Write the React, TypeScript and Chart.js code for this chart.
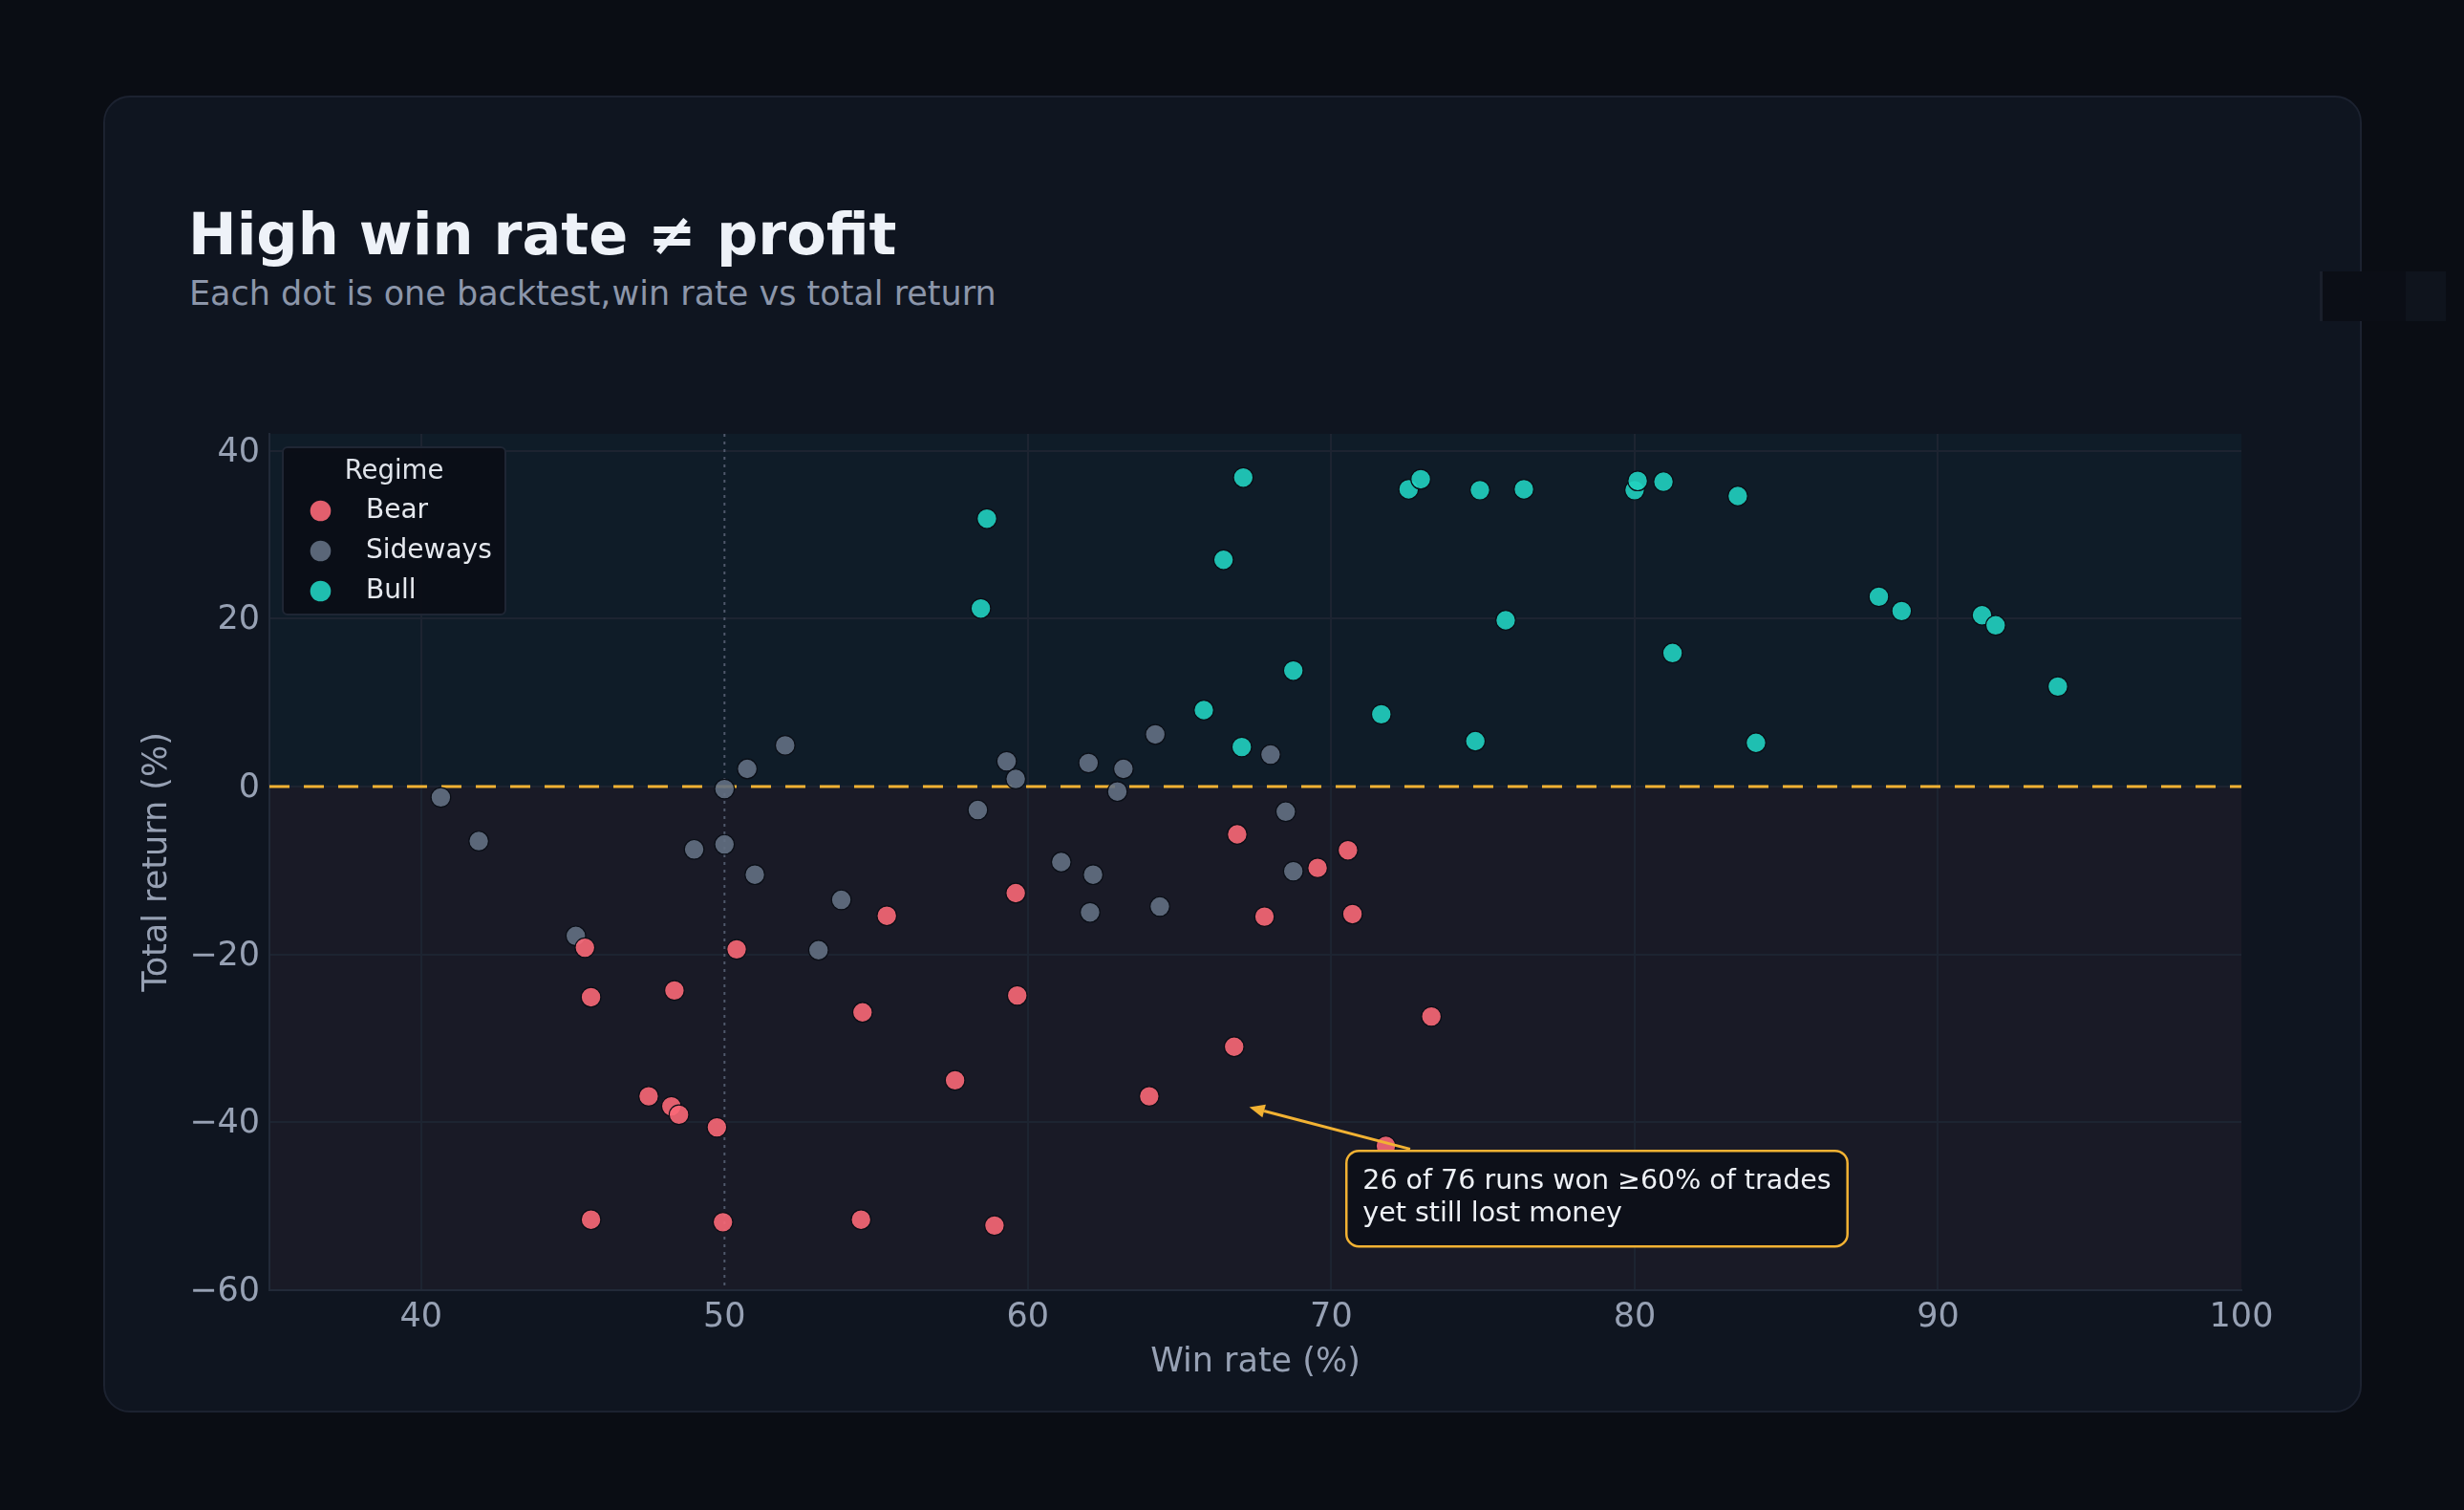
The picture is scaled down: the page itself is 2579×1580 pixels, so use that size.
import React, { useEffect, useRef } from 'react';
import { Chart, registerables } from 'chart.js';

Chart.register(...registerables);

// ---------- data ----------
const REGIMES = ['Bear', 'Sideways', 'Bull'];

const bearWinRate = [45.4, 45.6, 45.6, 47.5, 48.25, 48.5, 48.35, 49.75, 49.95, 50.4, 54.55, 54.5, 55.35, 57.6, 58.9, 59.6, 59.65, 64.0, 66.8, 66.9, 67.8, 69.55, 70.55, 70.7, 73.3, 71.8];
const bearReturn = [-19.2, -25.1, -51.6, -36.9, -38.1, -39.1, -24.3, -40.6, -51.9, -19.4, -26.9, -51.6, -15.4, -35.0, -52.3, -12.7, -24.9, -36.9, -31.0, -5.7, -15.5, -9.7, -7.6, -15.2, -27.4, -42.8];

const sidewaysWinRate = [40.65, 41.9, 45.1, 49.0, 50.0, 50.0, 50.75, 52.0, 51.0, 53.85, 53.1, 58.35, 59.3, 59.6, 62.0, 63.15, 62.95, 64.2, 68.0, 68.5, 68.75, 61.1, 62.15, 62.05, 64.35];
const sidewaysReturn = [-1.3, -6.5, -17.8, -7.5, -0.3, -6.9, 2.1, 4.9, -10.5, -13.5, -19.5, -2.8, 3.0, 0.9, 2.8, 2.1, -0.6, 6.2, 3.8, -3.0, -10.1, -9.0, -10.5, -15.0, -14.3];

const bullWinRate = [58.65, 58.45, 67.1, 66.45, 72.55, 72.95, 74.9, 76.35, 75.75, 68.75, 65.8, 67.05, 71.65, 74.75, 80.0, 80.1, 80.95, 83.4, 88.05, 88.8, 91.45, 91.9, 93.95, 81.25, 84.0];
const bullReturn = [31.9, 21.2, 36.8, 27.0, 35.4, 36.6, 35.3, 35.4, 19.8, 13.8, 9.1, 4.7, 8.6, 5.4, 35.3, 36.4, 36.3, 34.6, 22.6, 20.9, 20.4, 19.2, 11.9, 15.9, 5.2];

const X_TICKS = [40, 50, 60, 70, 80, 90, 100];
const Y_TICKS = [-60, -40, -20, 0, 20, 40];
const X_MIN = 35;
const X_MAX = 100;
const Y_MIN = -60;
const Y_MAX = 42;
const BREAKEVEN_WIN_RATE = 50;
const ZERO_RETURN = 0;

const TITLE = 'High win rate \u2260 profit';
const SUBTITLE_A = 'Each dot is one backtest,';
const SUBTITLE_B = ' win rate vs total return';
const X_TITLE = 'Win rate (%)';
const Y_TITLE = 'Total return (%)';
const LEGEND_TITLE = 'Regime';
const ANNOTATION_LINES = ['26 of 76 runs won \u226560% of trades', 'yet still lost money'];
const ANNOTATION_TARGET = { x: 67.3, y: -38.2 };
const ANNOTATION_TAIL = { x: 72.6, y: -43.2 };
const ANNOTATION_BOX = { x: 70.5, y: -43.4 };

// ---------- styles ----------
const FONT = '"DejaVu Sans", "Noto Sans", sans-serif';
const COLORS = ['rgba(250,104,119,0.9)', 'rgba(99,112,131,0.9)', 'rgba(33,209,192,0.9)'];
const AMBER = '#f2b233';
const TICK_COLOR = '#97a1b4';
const GRID_COLOR = '#1d2431';

const fmtTick = (v: number) => (v < 0 ? '\u2212' + Math.abs(v) : String(v));

function roundRect(ctx: CanvasRenderingContext2D, x: number, y: number, w: number, h: number, r: number) {
  ctx.beginPath();
  ctx.moveTo(x + r, y);
  ctx.lineTo(x + w - r, y);
  ctx.arcTo(x + w, y, x + w, y + r, r);
  ctx.lineTo(x + w, y + h - r);
  ctx.arcTo(x + w, y + h, x + w - r, y + h, r);
  ctx.lineTo(x + r, y + h);
  ctx.arcTo(x, y + h, x, y + h - r, r);
  ctx.lineTo(x, y + r);
  ctx.arcTo(x, y, x + r, y, r);
  ctx.closePath();
}

const bgPlugin = {
  id: 'regionBg',
  beforeDraw(chart: any) {
    const { ctx, chartArea: a, scales } = chart;
    const y0 = scales.y.getPixelForValue(ZERO_RETURN);
    ctx.save();
    ctx.fillStyle = '#0f1c28';
    ctx.fillRect(a.left, a.top, a.right - a.left, y0 - a.top);
    ctx.fillStyle = '#191a26';
    ctx.fillRect(a.left, y0, a.right - a.left, a.bottom - y0);
    ctx.restore();
  },
};

const refLinesPlugin = {
  id: 'refLines',
  beforeDatasetsDraw(chart: any) {
    const { ctx, chartArea: a, scales } = chart;
    const x50 = scales.x.getPixelForValue(BREAKEVEN_WIN_RATE);
    const y0 = scales.y.getPixelForValue(ZERO_RETURN);
    ctx.save();
    ctx.strokeStyle = '#4f586b';
    ctx.lineWidth = 2;
    ctx.setLineDash([3, 5]);
    ctx.beginPath();
    ctx.moveTo(x50, a.top);
    ctx.lineTo(x50, a.bottom);
    ctx.stroke();
    ctx.strokeStyle = AMBER;
    ctx.lineWidth = 3;
    ctx.setLineDash([21, 15]);
    ctx.beginPath();
    ctx.moveTo(a.left, y0);
    ctx.lineTo(a.right, y0);
    ctx.stroke();
    ctx.restore();
  },
};

const annotationPlugin = {
  id: 'annotation',
  afterDatasetsDraw(chart: any) {
    const { ctx, scales } = chart;
    const { x, y } = scales;
    const tx = x.getPixelForValue(ANNOTATION_TARGET.x);
    const ty = y.getPixelForValue(ANNOTATION_TARGET.y);
    const sx = x.getPixelForValue(ANNOTATION_TAIL.x);
    const sy = y.getPixelForValue(ANNOTATION_TAIL.y);
    const ang = Math.atan2(ty - sy, tx - sx);
    const headLen = 16;
    const headW = 7;
    const hx = tx - headLen * Math.cos(ang);
    const hy = ty - headLen * Math.sin(ang);
    ctx.save();
    ctx.strokeStyle = AMBER;
    ctx.fillStyle = AMBER;
    ctx.lineWidth = 3;
    ctx.beginPath();
    ctx.moveTo(sx, sy);
    ctx.lineTo(hx, hy);
    ctx.stroke();
    ctx.beginPath();
    ctx.moveTo(tx, ty);
    ctx.lineTo(hx + headW * Math.sin(ang), hy - headW * Math.cos(ang));
    ctx.lineTo(hx - headW * Math.sin(ang), hy + headW * Math.cos(ang));
    ctx.closePath();
    ctx.fill();

    ctx.font = `28.5px ${FONT}`;
    const tw = Math.max(...ANNOTATION_LINES.map((l) => ctx.measureText(l).width));
    const bx = x.getPixelForValue(ANNOTATION_BOX.x);
    const by = y.getPixelForValue(ANNOTATION_BOX.y);
    const bw = tw + 34;
    const bh = 100;
    roundRect(ctx, bx, by, bw, bh, 13);
    ctx.fillStyle = '#0d1019';
    ctx.fill();
    ctx.lineWidth = 2.5;
    ctx.strokeStyle = AMBER;
    ctx.stroke();
    ctx.fillStyle = '#eef1f6';
    ctx.textBaseline = 'alphabetic';
    ctx.textAlign = 'left';
    ANNOTATION_LINES.forEach((l, i) => ctx.fillText(l, bx + 17, by + 40 + i * 34));
    ctx.restore();
  },
};

const legendPlugin = {
  id: 'customLegend',
  afterDraw(chart: any) {
    const { ctx, chartArea: a } = chart;
    const left = a.left + 14;
    const top = a.top + 14;
    const w = 233;
    const h = 175;
    ctx.save();
    roundRect(ctx, left, top, w, h, 5);
    ctx.fillStyle = 'rgba(11,14,22,0.95)';
    ctx.fill();
    ctx.strokeStyle = '#1f2634';
    ctx.lineWidth = 2;
    ctx.stroke();
    ctx.fillStyle = '#dfe3ea';
    ctx.font = `27.5px ${FONT}`;
    ctx.textAlign = 'center';
    ctx.textBaseline = 'alphabetic';
    ctx.fillText(LEGEND_TITLE, left + w / 2, top + 32.5);
    ctx.textAlign = 'left';
    ctx.font = `28px ${FONT}`;
    chart.data.datasets.forEach((ds: any, i: number) => {
      const cy = top + 66.5 + i * 42;
      ctx.beginPath();
      ctx.arc(left + 39.5, cy, 10.8, 0, Math.PI * 2);
      ctx.fillStyle = ds.backgroundColor;
      ctx.fill();
      ctx.fillStyle = '#e6e9ef';
      ctx.fillText(ds.label, left + 87, cy + 7.6);
    });
    ctx.restore();
  },
};

export default function App() {
  const ref = useRef<HTMLCanvasElement | null>(null);

  useEffect(() => {
    if (!ref.current) return;
    Chart.defaults.font.family = FONT;
    const xs = [bearWinRate, sidewaysWinRate, bullWinRate];
    const ys = [bearReturn, sidewaysReturn, bullReturn];
    const chart = new Chart(ref.current, {
      type: 'scatter',
      data: {
        datasets: REGIMES.map((label, i) => ({
          label,
          data: xs[i].map((v, j) => ({ x: v, y: ys[i][j] })),
          backgroundColor: COLORS[i],
          borderColor: '#0a0e16',
          borderWidth: 1.2,
          pointRadius: 10.3,
          pointHoverRadius: 10.3,
        })),
      },
      options: {
        animation: false,
        responsive: false,
        devicePixelRatio: 1,
        events: [],
        layout: { padding: { left: 0, top: 74, right: 126, bottom: 0 } },
        plugins: {
          legend: { display: false },
          tooltip: { enabled: false },
        },
        scales: {
          x: {
            type: 'linear',
            min: X_MIN,
            max: X_MAX,
            afterBuildTicks: (s: any) => {
              s.ticks = X_TICKS.map((v) => ({ value: v }));
            },
            afterFit: (s: any) => {
              s.height = 128;
            },
            grid: {
              color: (c: any) =>
                c.tick && (c.tick.value === X_MAX || c.tick.value === BREAKEVEN_WIN_RATE) ? 'rgba(0,0,0,0)' : GRID_COLOR,
              lineWidth: 2,
              drawTicks: false,
            },
            border: { color: '#222a38', width: 2 },
            ticks: {
              color: TICK_COLOR,
              font: { size: 35, family: FONT },
              padding: 8,
              maxRotation: 0,
              autoSkip: false,
              callback: (v: any) => fmtTick(Number(v)),
            },
            title: {
              display: true,
              text: X_TITLE,
              color: TICK_COLOR,
              font: { size: 35, family: FONT },
              padding: { top: 0, bottom: 31 },
            },
          },
          y: {
            type: 'linear',
            min: Y_MIN,
            max: Y_MAX,
            afterBuildTicks: (s: any) => {
              s.ticks = Y_TICKS.map((v) => ({ value: v }));
            },
            afterFit: (s: any) => {
              s.width = 174;
            },
            grid: { color: GRID_COLOR, lineWidth: 2, drawTicks: false },
            border: { color: '#222a38', width: 2 },
            ticks: {
              color: TICK_COLOR,
              font: { size: 35, family: FONT },
              padding: 10,
              labelOffset: 2,
              autoSkip: false,
              callback: (v: any) => fmtTick(Number(v)),
            },
            title: {
              display: true,
              text: Y_TITLE,
              color: TICK_COLOR,
              font: { size: 35, family: FONT },
              padding: { top: 36, bottom: 0 },
            },
          },
        },
      },
      plugins: [bgPlugin, refLinesPlugin, annotationPlugin, legendPlugin],
    } as any);
    return () => chart.destroy();
  }, []);

  return (
    <div
      style={{
        position: 'absolute',
        left: 0,
        top: 0,
        width: 2579,
        height: 1580,
        background: '#0a0d14',
        overflow: 'hidden',
        fontFamily: FONT,
      }}
    >
      <div
        style={{
          position: 'absolute',
          left: 108,
          top: 100,
          width: 2364,
          height: 1378,
          boxSizing: 'border-box',
          border: '2.5px solid #1c2230',
          borderRadius: 28,
          background: '#0f1520',
        }}
      />
      <div
        style={{
          position: 'absolute',
          left: 197,
          top: 214.5,
          fontSize: 60.5,
          lineHeight: '60.5px',
          fontWeight: 'bold',
          color: '#eef2f8',
          whiteSpace: 'nowrap',
        }}
      >
        {TITLE}
      </div>
      <div
        style={{
          position: 'absolute',
          left: 198,
          top: 290,
          fontSize: 35,
          lineHeight: '35px',
          color: '#8c96aa',
          whiteSpace: 'nowrap',
        }}
      >
        <span>{SUBTITLE_A}</span>
        <span style={{ marginLeft: -10 }}>{SUBTITLE_B}</span>
      </div>
      <canvas
        ref={ref}
        width={2364}
        height={1098}
        style={{ position: 'absolute', left: 108, top: 380, width: 2364, height: 1098 }}
      />
      <div
        style={{
          position: 'absolute',
          left: 2428,
          top: 284,
          width: 90,
          height: 52,
          boxSizing: 'border-box',
          borderLeft: '3px solid #1a1f2b',
          background: '#0b0e16',
        }}
      />
      <div style={{ position: 'absolute', left: 2518, top: 284, width: 42, height: 52, background: '#0f141d' }} />
    </div>
  );
}
